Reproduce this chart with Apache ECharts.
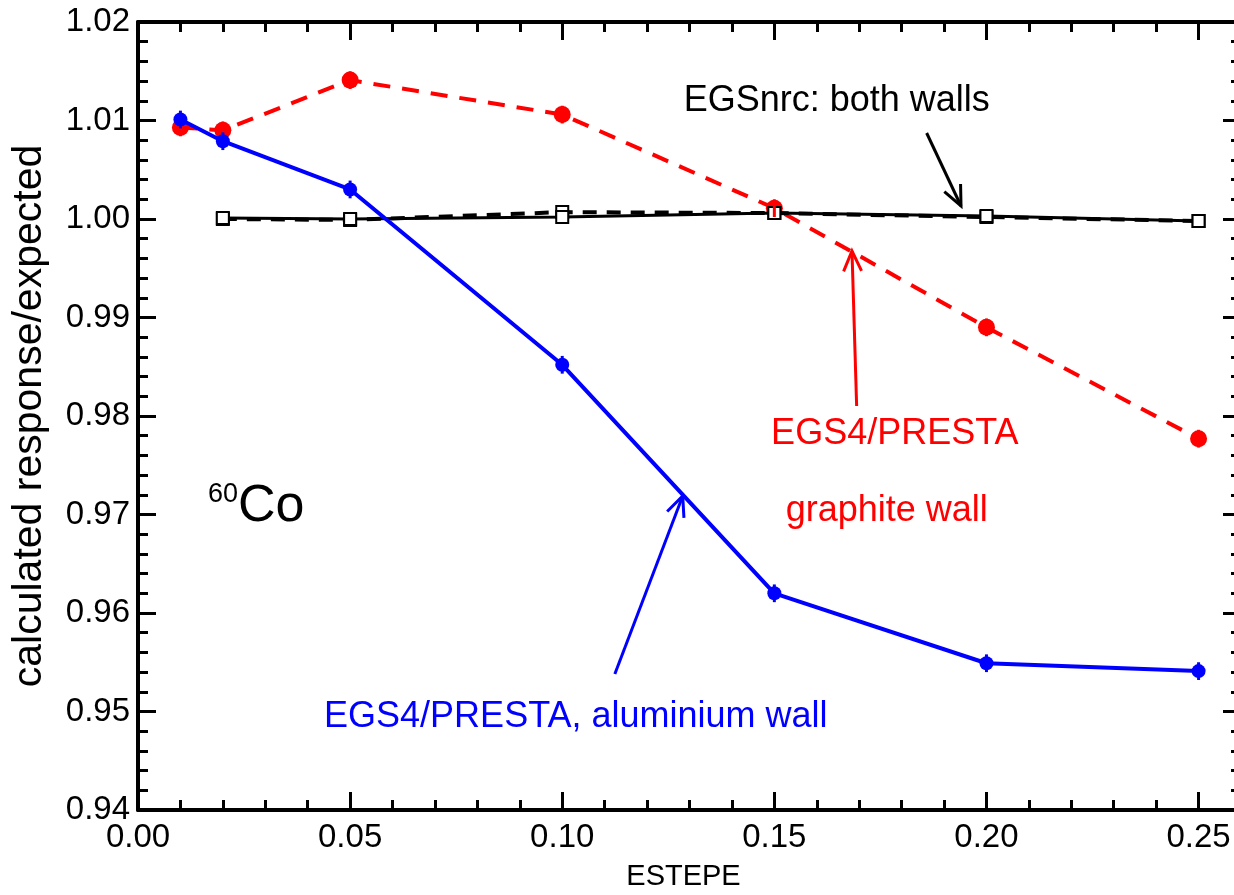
<!DOCTYPE html>
<html>
<head>
<meta charset="utf-8">
<script src="https://cdn.jsdelivr.net/npm/echarts@6/dist/echarts.min.js"></script>
<style>
html,body{margin:0;padding:0;background:#fff;}
#chart{width:1234px;height:895px;}
</style>
</head>
<body>
<div id="chart"></div>
<script>
// ---- data ----
var estepe = [0.01, 0.02, 0.05, 0.10, 0.15, 0.20, 0.25];
var aluminiumEGS4 = [1.0101, 1.0079, 1.0030, 0.9852, 0.9620, 0.9549, 0.9541];
var graphiteEGS4 = [1.0093, 1.0090, 1.0141, 1.0106, 1.0011, 0.9890, 0.9777];
var estepeNrc = [0.02, 0.05, 0.10, 0.15, 0.20, 0.25];
var egsnrcSolid = [1.0001, 1.0000, 1.0002, 1.0006, 1.0003, 0.9998];
var egsnrcDashed = [1.0000, 0.9999, 1.0007, 1.0006, 1.0002, 0.9998];
var errAl = 0.0009;
var errGr = 0.0009;
var xTickStep = 0.05;
var yTickStep = 0.01;

var FONT = "'Liberation Sans', Arial, Helvetica, sans-serif";

function pairs(xs, ys) { return xs.map(function (x, i) { return [x, ys[i]]; }); }
function errData(xs, ys, e) { return xs.map(function (x, i) { return [x, ys[i] - e, ys[i] + e]; }); }

function errSeries(data, color, w) {
  return {
    type: 'custom', silent: true, z: 5,
    data: data,
    renderItem: function (params, api) {
      var p1 = api.coord([api.value(0), api.value(1)]);
      var p2 = api.coord([api.value(0), api.value(2)]);
      return { type: 'line', shape: { x1: p1[0], y1: p1[1], x2: p2[0], y2: p2[1] },
        style: { stroke: color, lineWidth: w } };
    }
  };
}

var xLabelFmt = function (v) {
  var k = v / xTickStep;
  if (Math.abs(k - Math.round(k)) > 1e-6 || v > 0.2501) return '';
  return v.toFixed(2);
};

function xAx(pos, withLabel) {
  return {
    type: 'value', position: pos, min: 0, max: 0.26, interval: xTickStep,
    name: withLabel ? 'ESTEPE' : '', nameLocation: 'middle', nameGap: 52,
    nameTextStyle: { fontFamily: FONT, fontSize: 29, color: '#000', padding: [0, 12, 0, 0] },
    axisLine: { show: true, onZero: false, lineStyle: { color: '#000', width: 4 } },
    axisTick: { show: true, inside: true, length: 18, lineStyle: { color: '#000', width: 3 } },
    minorTick: { show: true, splitNumber: 5, length: 10, lineStyle: { color: '#000', width: 3 } },
    axisLabel: { show: withLabel, inside: false, margin: 11, fontFamily: FONT, fontSize: 33, color: '#000',
      formatter: xLabelFmt, showMaxLabel: false },
    splitLine: { show: false }
  };
}
function yAx(pos, withLabel) {
  return {
    type: 'value', position: pos, min: 0.94, max: 1.02, interval: yTickStep,
    name: withLabel ? 'calculated response/expected' : '', nameLocation: 'middle', nameGap: 88,
    nameRotate: 90,
    nameTextStyle: { fontFamily: FONT, fontSize: 41, color: '#000' },
    axisLine: { show: true, onZero: false, lineStyle: { color: '#000', width: pos === 'left' ? 4 : 3 } },
    axisTick: { show: true, inside: true, length: 18, lineStyle: { color: '#000', width: 3 } },
    minorTick: { show: true, splitNumber: 5, length: 10, lineStyle: { color: '#000', width: 3 } },
    axisLabel: { show: withLabel, margin: 8, fontFamily: FONT, fontSize: 33, color: '#000',
      formatter: function (v) { return v.toFixed(2); } },
    splitLine: { show: false }
  };
}

var chart = echarts.init(document.getElementById('chart'), null, { renderer: 'canvas' });
var option = {
  backgroundColor: '#fff',
  animation: false,
  grid: { left: 138, top: 22, width: 1103, height: 788, outerBoundsMode: 'none', containLabel: false },
  xAxis: [xAx('bottom', true), xAx('top', false)],
  yAxis: [yAx('left', true), yAx('right', false)],
  series: [
    {
      name: 'EGS4/PRESTA graphite wall', type: 'line', data: pairs(estepe, graphiteEGS4), z: 3,
      symbol: 'circle', symbolSize: 17, itemStyle: { color: '#ff0000' },
      lineStyle: { color: '#ff0000', width: 4, type: [17, 12] }
    },
    errSeries(errData(estepe, graphiteEGS4, errGr), '#ff0000', 3),
    {
      name: 'EGSnrc dashed', type: 'line', data: pairs(estepeNrc, egsnrcDashed), z: 4,
      symbol: 'rect', symbolSize: 12, itemStyle: { color: '#fff', borderColor: '#000', borderWidth: 2 },
      lineStyle: { color: '#000', width: 4, type: [14, 10] }
    },
    {
      name: 'EGSnrc solid', type: 'line', data: pairs(estepeNrc, egsnrcSolid), z: 4,
      symbol: 'rect', symbolSize: 12, itemStyle: { color: '#fff', borderColor: '#000', borderWidth: 2 },
      lineStyle: { color: '#000', width: 3 }
    },
    {
      name: 'EGS4/PRESTA aluminium wall', type: 'line', data: pairs(estepe, aluminiumEGS4), z: 6,
      symbol: 'circle', symbolSize: 14, itemStyle: { color: '#0000ff' },
      lineStyle: { color: '#0000ff', width: 4 }
    },
    errSeries(errData(estepe, aluminiumEGS4, errAl), '#0000ff', 3)
  ]
};
chart.setOption(option);

// ---- annotations (anchored in data coordinates) ----
var texts = [
  { text: 'EGSnrc: both walls', at: [0.1647, 1.01198], color: '#000', size: 36 },
  { text: 'EGS4/PRESTA', at: [0.1784, 0.97817], color: '#ff0000', size: 36 },
  { text: 'graphite wall', at: [0.1765, 0.97036], color: '#ff0000', size: 36 },
  { text: 'EGS4/PRESTA, aluminium wall', at: [0.1032, 0.94944], color: '#0000ff', size: 36 }
];
var arrows = [
  { from: [0.1859, 1.00873], to: [0.1940, 1.00132], color: '#000' },
  { from: [0.1694, 0.98102], to: [0.1683, 0.99675], color: '#ff0000' },
  { from: [0.1124, 0.95381], to: [0.1284, 0.97188], color: '#0000ff' }
];
var isotopeAt = [0.0165, 0.9708];

var graphics = [];
texts.forEach(function (t) {
  var p = chart.convertToPixel({ gridIndex: 0 }, t.at);
  graphics.push({ type: 'text', x: p[0], y: p[1], z: 10,
    style: { text: t.text, fill: t.color, font: t.size + 'px ' + FONT, textAlign: 'center', textVerticalAlign: 'middle' } });
});
arrows.forEach(function (a) {
  var p1 = chart.convertToPixel({ gridIndex: 0 }, a.from);
  var p2 = chart.convertToPixel({ gridIndex: 0 }, a.to);
  var ang = Math.atan2(p1[1] - p2[1], p1[0] - p2[0]);
  var L = 22, spread = 0.42;
  var h1 = [p2[0] + L * Math.cos(ang + spread), p2[1] + L * Math.sin(ang + spread)];
  var h2 = [p2[0] + L * Math.cos(ang - spread), p2[1] + L * Math.sin(ang - spread)];
  graphics.push({ type: 'line', z: 10, shape: { x1: p1[0], y1: p1[1], x2: p2[0], y2: p2[1] },
    style: { stroke: a.color, lineWidth: 3 } });
  graphics.push({ type: 'polyline', z: 10, shape: { points: [h1, p2, h2] },
    style: { stroke: a.color, lineWidth: 3, fill: null } });
});
var ip = chart.convertToPixel({ gridIndex: 0 }, isotopeAt);
graphics.push({ type: 'text', x: ip[0], y: ip[1], z: 10,
  style: { text: '{sup|60}{big|Co}', textAlign: 'left', textVerticalAlign: 'middle',
    rich: { sup: { fontSize: 27, fontFamily: FONT, fill: '#000', verticalAlign: 'top', padding: [0, 0, 18, 0] },
            big: { fontSize: 52, fontFamily: FONT, fill: '#000' } } } });
chart.setOption({ graphic: graphics });
</script>
</body>
</html>
